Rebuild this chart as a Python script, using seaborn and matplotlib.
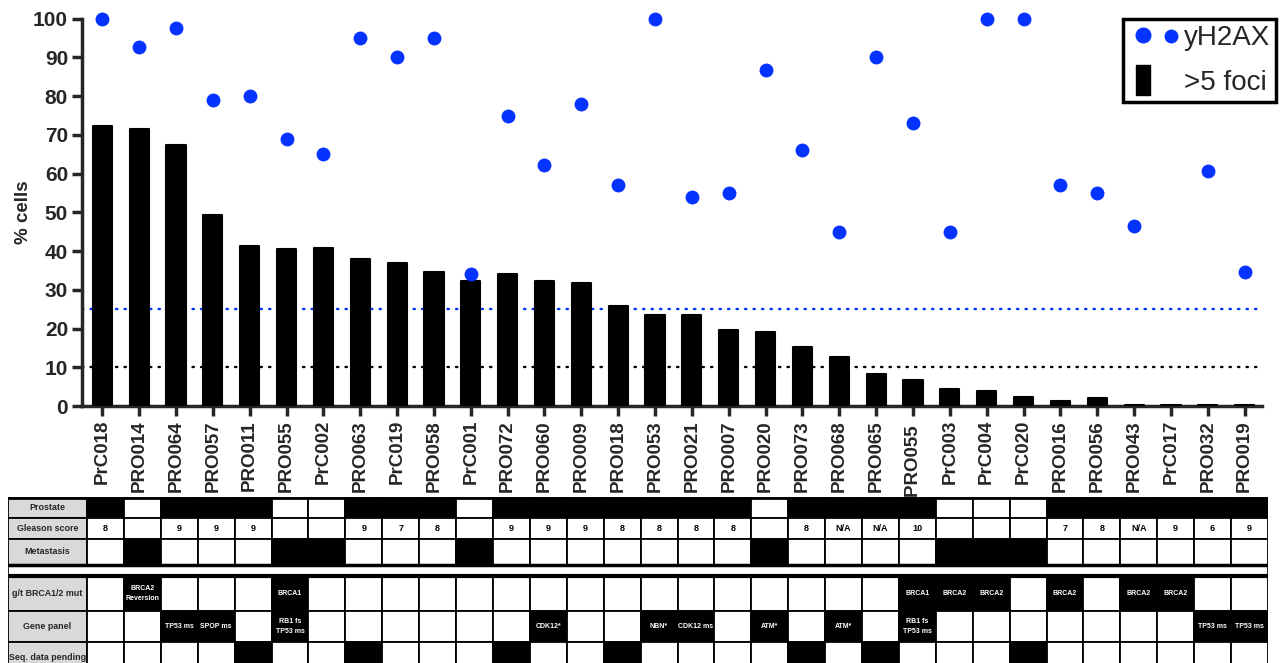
import numpy as np
import pandas as pd
import matplotlib
matplotlib.use("Agg")
import matplotlib.pyplot as plt
from matplotlib.lines import Line2D
from matplotlib import font_manager
import seaborn as sns

# --- data ---
samples = ["PrC018", "PRO014", "PRO064", "PRO057", "PRO011", "PRO055", "PrC002", "PRO063",
           "PrC019", "PRO058", "PrC001", "PRO072", "PRO060", "PRO009", "PRO018", "PRO053",
           "PRO021", "PRO007", "PRO020", "PRO073", "PRO068", "PRO065", "PRO055 ", "PrC003",
           "PrC004", "PrC020", "PRO016", "PRO056", "PRO043", "PrC017", "PRO032", "PRO019"]
foci = [72.3, 71.4, 67.4, 49.2, 41.2, 40.6, 40.9, 38.0, 36.8, 34.5, 32.3, 34.1, 32.2, 31.7,
        25.8, 23.6, 23.4, 19.5, 19.1, 15.3, 12.7, 8.2, 6.7, 4.3, 3.8, 2.3, 1.4, 2.1,
        0.3, 0.3, 0.3, 0.3]
yh2ax = [100, 92.6, 97.5, 78.9, 80, 68.9, 65, 95, 90, 95, 34, 75, 62.2, 78, 57, 100,
         53.9, 55, 86.7, 66, 45, 90, 73.1, 45, 100, 100, 57, 55, 46.6, 95.6, 60.7, 34.6]

prostate = [1, 0, 1, 1, 1, 0, 0, 1, 1, 1, 0, 1, 1, 1, 1, 1, 1, 1, 0, 1, 1, 1, 1, 0, 0, 0,
            1, 1, 1, 1, 1, 1]
gleason = ["8", "", "9", "9", "9", "", "", "9", "7", "8", "", "9", "9", "9", "8", "8", "8",
           "8", "", "8", "N/A", "N/A", "10", "", "", "", "7", "8", "N/A", "9", "6", "9"]
metastasis = [0, 1, 0, 0, 0, 1, 1, 0, 0, 0, 1, 0, 0, 0, 0, 0, 0, 0, 1, 0, 0, 0, 0, 1, 1, 1,
              0, 0, 0, 0, 0, 0]
brca = ["", "BRCA2\nReversion", "", "", "", "BRCA1", "", "", "", "", "", "", "", "", "", "",
        "", "", "", "", "", "", "BRCA1", "BRCA2", "BRCA2", "", "BRCA2", "", "BRCA2", "BRCA2",
        "", ""]
gene_panel = ["", "", "TP53 ms", "SPOP ms", "", "RB1 fs\nTP53 ms", "", "", "", "", "", "",
              "CDK12*", "", "", "NBN*", "CDK12 ms", "", "ATM*", "", "ATM*", "",
              "RB1 fs\nTP53 ms", "", "", "", "", "", "", "", "TP53 ms", "TP53 ms"]
seq_pending = [0, 0, 0, 0, 1, 0, 0, 1, 0, 0, 0, 1, 0, 0, 1, 0, 0, 0, 0, 1, 0, 1, 0, 0, 0, 1,
               0, 0, 0, 0, 0, 0]
row_labels = ["Prostate", "Gleason score", "Metastasis", "", "g/t BRCA1/2 mut",
              "Gene panel", "Seq. data pending"]

BLUE = "#0433ff"

sns.set_style("ticks")
plt.rcParams["font.family"] = ["Liberation Sans", "DejaVu Sans"]
installed = {f.name for f in font_manager.fontManager.ttflist}
table_font = "Liberation Sans Narrow" if "Liberation Sans Narrow" in installed else "Liberation Sans"

W, H = 1280, 663
fig = plt.figure(figsize=(W / 100, H / 100), dpi=100)

# ---------------- main chart ----------------
ax = fig.add_axes([82 / W, 1 - 406 / H, (1262 - 82) / W, (406 - 18.7) / H])
df = pd.DataFrame({"pos": np.arange(len(samples)), "foci": foci, "yh2ax": yh2ax})

ax.axhline(25, color=BLUE, lw=1.7, ls=(0, (0.6, 3.0)), dash_capstyle="round", zorder=1)
ax.axhline(10, color="black", lw=1.7, ls=(0, (0.6, 3.0)), dash_capstyle="round", zorder=1)
sns.barplot(data=df, x="pos", y="foci", color="black", saturation=1, width=0.52,
            ax=ax, zorder=3)
for p in ax.patches:
    p.set_joinstyle("round")
    p.set_edgecolor("black")
    p.set_linewidth(1.5)
sns.scatterplot(data=df, x="pos", y="yh2ax", color=BLUE, s=100, linewidth=0, ax=ax,
                zorder=7, clip_on=False)

ax.set_xlim(-0.55, 31.47)
ax.set_ylim(0, 100)
ax.set_yticks(range(0, 101, 10))
ax.set_xticks(range(len(samples)))
ax.set_xticklabels(samples, rotation=90, fontsize=13.5, fontweight="bold")
for lbl in ax.get_yticklabels():
    lbl.set_fontweight("bold")
ax.set_xlabel("")
ax.set_ylabel("% cells", fontsize=13.5, fontweight="bold", labelpad=1)
sns.despine(ax=ax)
for s in ["left", "bottom"]:
    ax.spines[s].set_linewidth(2.5)
ax.tick_params(axis="both", width=2.5, length=7, pad=3)
ax.tick_params(axis="y", labelsize=15)

bar_marker = [(-0.5, -1), (0.5, -1), (0.5, 1), (-0.5, 1), (-0.5, -1)]
handles = [Line2D([], [], marker="o", ls="", color=BLUE, markersize=10.5),
           Line2D([], [], marker=bar_marker, ls="", color="black", markersize=21)]
leg = ax.legend(handles, ["yH2AX", ">5 foci"], loc="upper right",
                bbox_to_anchor=(1276 / W, 1 - 19 / H), bbox_transform=fig.transFigure,
                borderaxespad=0, fontsize=20, frameon=True, fancybox=False,
                framealpha=1, edgecolor="black", handlelength=1.0, handletextpad=1.0,
                borderpad=0.2, labelspacing=0.7)
leg.get_frame().set_linewidth(2.5)
leg.set_zorder(5)

# ---------------- annotation table ----------------
lab_w = 79 / 36.9
n = len(samples)
tab = fig.add_axes([8 / W, 0, 1260 / W, 166 / H])
tab.set_xlim(-lab_w, n)
tab.set_ylim(166, 0)
tab.axis("off")

row_top = [1, 21, 42, 68, 79, 114, 145]
row_h = [20, 21, 26, 11, 35, 31, 31]
cols = np.arange(n) + 0.5

rows = [
    (["black" if v else "white" for v in prostate], [""] * n, "black"),
    (["white"] * n, gleason, "black"),
    (["black" if v else "white" for v in metastasis], [""] * n, "black"),
    None,
    (["black" if t else "white" for t in brca], brca, "white"),
    (["black" if t else "white" for t in gene_panel], gene_panel, "white"),
    (["black" if v else "white" for v in seq_pending], [""] * n, "black"),
]

for i, row in enumerate(rows):
    top, h = row_top[i], row_h[i]
    if row is None:
        tab.bar(x=(n - lab_w) / 2, height=h, bottom=top, width=n + lab_w, color="white",
                edgecolor="black", linewidth=1.2)
        continue
    colors, texts, tcol = row
    tab.bar(x=-lab_w / 2, height=h, bottom=top, width=lab_w, color="#d9d9d9",
            edgecolor="black", linewidth=1.3)
    tab.text(-lab_w / 2, top + h / 2, row_labels[i], ha="center", va="center",
             fontsize=6.4, fontweight="bold", family=table_font)
    tab.bar(x=cols, height=h, bottom=top, width=1, color=colors, edgecolor="black",
            linewidth=1.3)
    for c, t in zip(cols, texts):
        if t:
            size = 6.5 if tcol == "black" else 5
            tab.text(c, top + h / 2, t, ha="center", va="center", color=tcol,
                     fontsize=size, fontweight="bold", family=table_font,
                     linespacing=1.6)

tab.axhline(1, color="black", lw=2)
tab.axhline(68, color="black", lw=2.5)
tab.axhline(79, color="black", lw=3)

fig.savefig("out.png", dpi=100)
